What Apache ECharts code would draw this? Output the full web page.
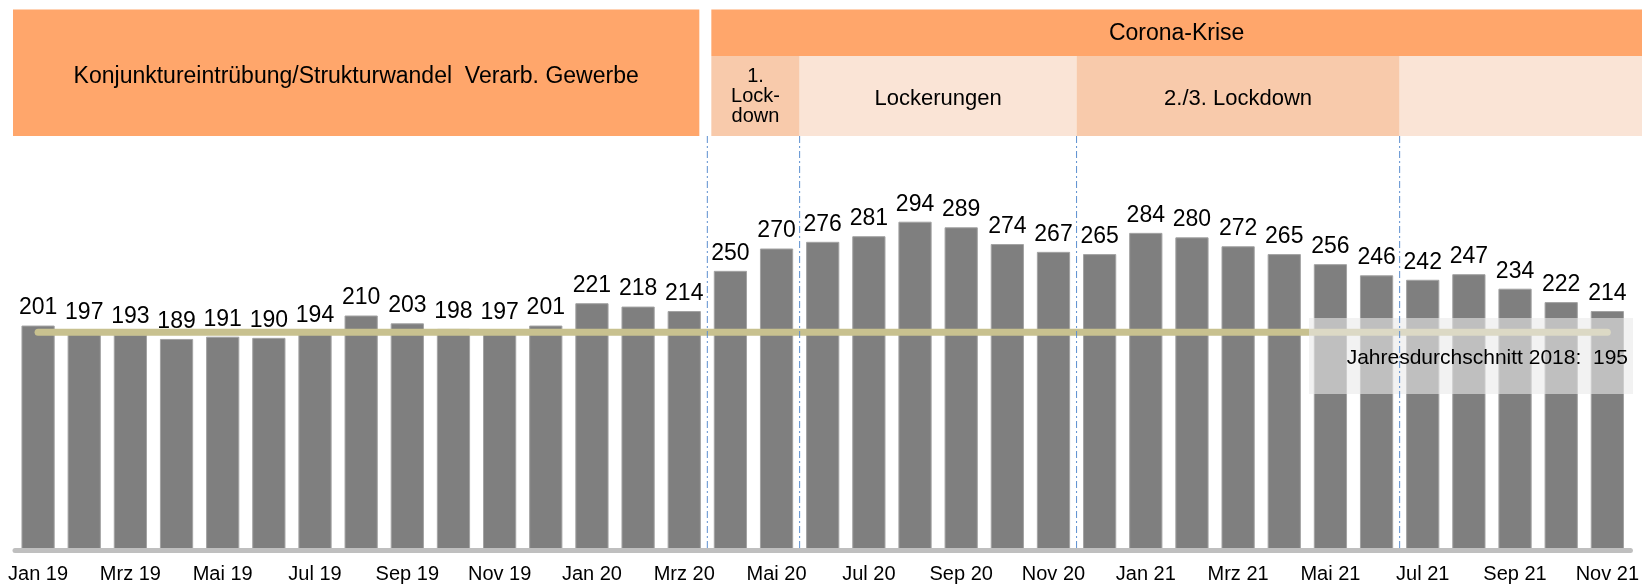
<!DOCTYPE html>
<html>
<head>
<meta charset="utf-8">
<title>Arbeitslose</title>
<script src="https://cdn.jsdelivr.net/npm/echarts@6/dist/echarts.min.js"></script>
<style>
  body { margin: 0; background: #fff; }
  #main { width: 1642px; height: 584px; }
</style>
</head>
<body>
<div id="main"></div>
<script>
// Monate Jan 19 - Nov 21
const months = [
  'Jan 19','Feb 19','Mrz 19','Apr 19','Mai 19','Jun 19','Jul 19','Aug 19','Sep 19','Okt 19','Nov 19','Dez 19',
  'Jan 20','Feb 20','Mrz 20','Apr 20','Mai 20','Jun 20','Jul 20','Aug 20','Sep 20','Okt 20','Nov 20','Dez 20',
  'Jan 21','Feb 21','Mrz 21','Apr 21','Mai 21','Jun 21','Jul 21','Aug 21','Sep 21','Okt 21','Nov 21'
];
const values = [
  201, 197, 193, 189, 191, 190, 194, 210, 203, 198, 197, 201,
  221, 218, 214, 250, 270, 276, 281, 294, 289, 274, 267, 265,
  284, 280, 272, 265, 256, 246, 242, 247, 234, 222, 214
];
const avg2018 = 195;
const avgText = 'Jahresdurchschnitt 2018:  ' + avg2018;

// Phasen (letzter Monat vor der Trennlinie)
const phaseBreaks = ['Mrz 20', 'Mai 20', 'Nov 20', 'Jun 21'];
const topLeftText = 'Konjunktureintrübung/Strukturwandel  Verarb. Gewerbe';
const topRightText = 'Corona-Krise';
const phaseTexts = ['1.\nLock-\ndown', 'Lockerungen', '2./3. Lockdown', ''];

const font = '"Liberation Sans", Arial, sans-serif';
const orange = '#ffa66b';
const peachDark = '#f8caab';
const peachLight = '#fae4d6';

let myChart = echarts.init(document.getElementById('main'));

myChart.setOption({
  animation: false,
  textStyle: { fontFamily: font },
  grid: { left: 15, right: 9, top: 215, bottom: 33 },
  xAxis: {
    type: 'category',
    data: months,
    z: 10,
    axisTick: { show: false },
    axisLine: { lineStyle: { color: '#bfbfbf', width: 5 } },
    axisLabel: { interval: 1, fontSize: 20, color: '#000', margin: 14, fontFamily: font }
  },
  yAxis: {
    type: 'value',
    min: 0,
    max: 300,
    show: false,
    splitLine: { show: false }
  },
  series: [{
    type: 'bar',
    data: values,
    barCategoryGap: '28%',
    itemStyle: { color: '#7f7f7f', borderColor: '#a3a3a3', borderWidth: 1 },
    label: { show: true, position: 'top', distance: 6, fontSize: 23, color: '#000', fontFamily: font }
  }, {
    type: 'line',
    data: [[months[0], avg2018], [months[months.length - 1], avg2018]],
    symbol: 'none',
    z: 4,
    lineStyle: { color: '#c8c18f', width: 7, cap: 'round' }
  }]
});

// Trennlinien und Kopfzeilen an den Kategoriegrenzen ausrichten
function boundary(name) {
  let i = months.indexOf(name);
  let a = myChart.convertToPixel({ xAxisIndex: 0 }, i);
  let b = myChart.convertToPixel({ xAxisIndex: 0 }, i + 1);
  return (a + b) / 2;
}
const bx = phaseBreaks.map(boundary);
const W = 1642;
const top1 = 9.5, mid = 56, bot = 136;

let graphics = [];
graphics.push({
  type: 'rect', z: 100,
  shape: { x: 13, y: top1, width: bx[0] - 8 - 13, height: bot - top1 },
  style: { fill: orange }
});
graphics.push({
  type: 'text', z: 101,
  style: { text: topLeftText, x: (13 + bx[0] - 8) / 2, y: 77, align: 'center', verticalAlign: 'middle',
           font: '23px ' + font, fill: '#000' }
});
graphics.push({
  type: 'rect', z: 100,
  shape: { x: bx[0] + 4, y: top1, width: W - bx[0] - 4, height: mid - top1 },
  style: { fill: orange }
});
graphics.push({
  type: 'text', z: 101,
  style: { text: topRightText, x: (bx[0] + 4 + W) / 2, y: 34, align: 'center', verticalAlign: 'middle',
           font: '23px ' + font, fill: '#000' }
});
const edges = [bx[0] + 4, bx[1], bx[2], bx[3], W];
phaseTexts.forEach((t, k) => {
  graphics.push({
    type: 'rect', z: 100,
    shape: { x: edges[k], y: mid, width: edges[k + 1] - edges[k], height: bot - mid },
    style: { fill: k % 2 === 0 ? peachDark : peachLight }
  });
  if (t) {
    graphics.push({
      type: 'text', z: 101,
      style: { text: t, x: (edges[k] + edges[k + 1]) / 2, y: k === 0 ? 96 : 99, align: 'center', verticalAlign: 'middle',
               font: (k === 0 ? '20px ' : '22px ') + font, lineHeight: 20, fill: '#000' }
    });
  }
});
bx.forEach((x) => {
  graphics.push({
    type: 'line', z: 110,
    shape: { x1: x, y1: bot, x2: x, y2: 548 },
    style: { stroke: '#5b8fd0', lineWidth: 1, lineDash: [7, 3, 2, 3] }
  });
});
// Beschriftung Jahresdurchschnitt
graphics.push({
  type: 'rect', z: 105,
  shape: { x: 1309, y: 318, width: 324, height: 76 },
  style: { fill: 'rgba(233,233,233,0.6)' }
});
graphics.push({
  type: 'text', z: 106,
  style: { text: avgText, x: 1628, y: 358, align: 'right', verticalAlign: 'middle',
           font: '21px ' + font, fill: '#000' }
});

myChart.setOption({ graphic: graphics });
</script>
</body>
</html>
